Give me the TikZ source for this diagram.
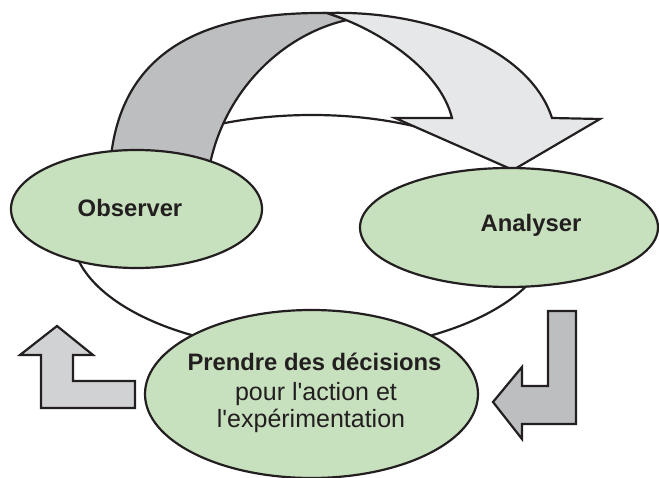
\documentclass[tikz,border=0pt]{standalone}
\usepackage{fontspec}
\setmainfont{Liberation Sans}
\usetikzlibrary{shapes.geometric}
\definecolor{edge}{RGB}{35,31,32}
\definecolor{leaf}{RGB}{199,224,189}
\definecolor{darkarrow}{RGB}{188,190,192}
\definecolor{lightarrow}{RGB}{230,231,232}
\definecolor{larrow}{RGB}{209,210,212}
\begin{document}
\begin{tikzpicture}[x=1pt,y=-1pt, line width=2.2pt,
  outl/.style={draw=edge, line join=miter},
  blob/.style={ellipse, draw=edge, fill=leaf, inner sep=0pt, line width=2.2pt},
  boldtxt/.style={anchor=base, text=edge, inner sep=0pt, font=\bfseries\fontsize{23.8}{28}\selectfont},
  regtxt/.style={anchor=base, text=edge, inner sep=0pt, font=\fontsize{25}{28}\selectfont}]
\useasboundingbox (0,0) rectangle (659,478);
% background cycle ellipse
\draw[outl, fill=white] (312,233) ellipse [x radius=240, y radius=118];
% dark curved band (from Observer)
\draw[outl, fill=darkarrow] (110,168) .. controls (118,40) and (220,12) .. (327,13)
  -- (347,20) .. controls (280,35) and (220,95) .. (208,175) -- cycle;
% light curved arrow (to Analyser)
\draw[outl, fill=lightarrow] (327,13) .. controls (430,10) and (530,50) .. (552,118)
  -- (600,119) -- (513,170) -- (395,118) -- (452,118)
  .. controls (440,70) and (380,30) .. (327,13) -- cycle;
% left L arrow
\draw[outl, fill=larrow] (57,326) -- (93,355) -- (73,355) -- (73,381) -- (135,381)
  -- (135,408) -- (41,408) -- (41,355) -- (20,355) -- cycle;
% right L arrow
\draw[outl, fill=darkarrow] (548,311) -- (576,311) -- (576,424) -- (522,424)
  -- (522,439) -- (493,402) -- (522,367) -- (522,386) -- (548,386) -- cycle;
% ellipses
\node[blob, minimum width=251, minimum height=118] (obs) at (136.5,209) {};
\node[blob, minimum width=298, minimum height=119] (ana) at (509,227.5) {};
\node[blob, minimum width=333, minimum height=168] (dec) at (311.5,394) {};
% texts
\node[boldtxt] (tobs) at (130,217) {Observer};
\node[boldtxt] (tana) at (531,231.5) {Analyser};
\node[boldtxt] (tdec1) at (314.5,371) {Prendre des décisions};
\node[regtxt] (tdec2) at (316,400) {pour l\textquotesingle action et};
\node[regtxt] (tdec3) at (311,428) {l\textquotesingle expérimentation};
\end{tikzpicture}
\end{document}
